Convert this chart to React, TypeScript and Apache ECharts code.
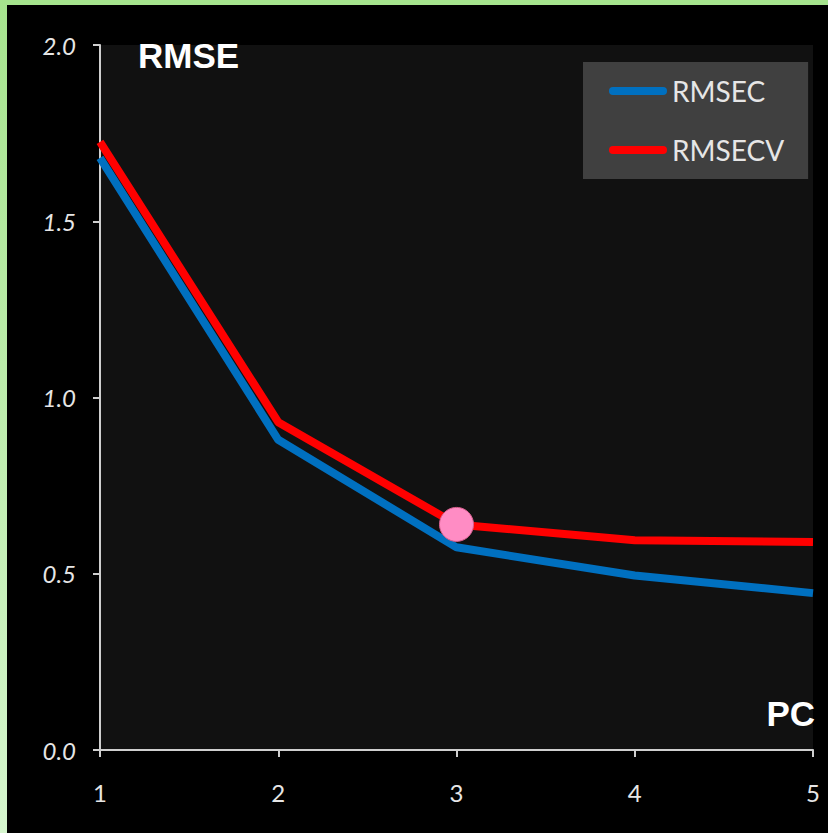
import React, { useEffect, useRef } from "react";
import * as echarts from "echarts";

// Number of principal components on the x axis
const pcs: number[] = [1, 2, 3, 4, 5];
// Calibration error per component count
const rmsec: number[] = [1.68, 0.88, 0.575, 0.495, 0.445];
// Cross-validation error per component count
const rmsecv: number[] = [1.725, 0.93, 0.64, 0.595, 0.59];
// Highlighted optimum (component count, RMSECV value)
const optimum: [number, number] = [3, 0.64];
const yTicks: number[] = [0, 0.5, 1.0, 1.5, 2.0];

const W = 828;
const H = 833;

export default function App() {
  const ref = useRef<HTMLDivElement>(null);

  useEffect(() => {
    document.body.style.margin = "0";
    if (!ref.current) return;
    const chart = echarts.init(ref.current, null, { renderer: "svg" });

    const axisColor = "#cfcfcf";
    const labelFont = "Lato, 'Open Sans', sans-serif";

    chart.setOption({
      animation: false,
      backgroundColor: "#000000",
      grid: {
        left: 100,
        right: W - 813,
        top: 45,
        bottom: H - 750,
        show: true,
        backgroundColor: "#111111",
        borderWidth: 0,
      },
      legend: {
        data: ["RMSEC", "RMSECV"],
        orient: "vertical",
        left: 583,
        top: 62,
        backgroundColor: "#404040",
        padding: [14, 24, 14, 26],
        itemGap: 29,
        itemWidth: 58,
        itemHeight: 8,
        itemTextGap: 3,
        icon: "path://M4,0 H54 A4,4 0 0 1 54,8 H4 A4,4 0 0 1 4,0 Z",
        textStyle: {
          color: "#e6e6e6",
          fontFamily: labelFont,
          fontSize: 28,
          lineHeight: 30,
        },
      },
      xAxis: {
        type: "value",
        min: pcs[0],
        max: pcs[pcs.length - 1],
        interval: 1,
        axisLine: { show: true, lineStyle: { color: axisColor, width: 2 } },
        axisTick: { show: true, length: 7, lineStyle: { color: axisColor, width: 2 } },
        splitLine: { show: false },
        axisLabel: {
          color: "#e6e6e6",
          fontFamily: labelFont,
          fontSize: 24,
          margin: 30,
        },
      },
      yAxis: {
        type: "value",
        min: yTicks[0],
        max: yTicks[yTicks.length - 1],
        interval: 0.5,
        axisLine: { show: true, lineStyle: { color: axisColor, width: 2 } },
        axisTick: { show: true, length: 7, lineStyle: { color: axisColor, width: 2 } },
        splitLine: { show: false },
        axisLabel: {
          color: "#e6e6e6",
          fontFamily: labelFont,
          fontStyle: "italic",
          fontSize: 24,
          margin: 24,
          formatter: (v: number) => v.toFixed(1),
        },
      },
      series: [
        {
          name: "RMSECV",
          type: "line",
          data: pcs.map((p, i) => [p, rmsecv[i]]),
          showSymbol: false,
          symbol: "none",
          itemStyle: { color: "#ff0000" },
          lineStyle: { color: "#ff0000", width: 8 },
          z: 2,
        },
        {
          name: "RMSEC",
          type: "line",
          data: pcs.map((p, i) => [p, rmsec[i]]),
          showSymbol: false,
          symbol: "none",
          itemStyle: { color: "#0070c0" },
          lineStyle: { color: "#0070c0", width: 8 },
          z: 3,
        },
        {
          name: "optimum",
          type: "scatter",
          data: [optimum],
          symbol: "circle",
          symbolSize: 34,
          itemStyle: {
            color: "#ff8cc4",
            borderColor: "#d8608f",
            borderWidth: 1,
            opacity: 1,
          },
          emphasis: { disabled: true },
          z: 5,
        },
      ],
      graphic: [
        {
          type: "rect",
          shape: { x: 0, y: 0, width: W, height: 5 },
          style: { fill: "#a6e48e" },
          z: 10,
        },
        {
          type: "rect",
          shape: { x: 0, y: 0, width: 7, height: H },
          style: {
            fill: new echarts.graphic.LinearGradient(0, 0, 0, 1, [
              { offset: 0, color: "#a6e48e" },
              { offset: 1, color: "#d6f6ce" },
            ]),
          },
          z: 10,
        },
        {
          type: "text",
          x: 138,
          y: 55,
          style: {
            text: "RMSE",
            fill: "#ffffff",
            font: "bold 35px 'Liberation Sans', Arial, sans-serif",
            textAlign: "left",
            textVerticalAlign: "middle",
          },
          z: 10,
        },
        {
          type: "text",
          x: 815,
          y: 713,
          style: {
            text: "PC",
            fill: "#ffffff",
            font: "bold 35px 'Liberation Sans', Arial, sans-serif",
            textAlign: "right",
            textVerticalAlign: "middle",
          },
          z: 10,
        },
      ],
    });

    return () => chart.dispose();
  }, []);

  return <div ref={ref} style={{ width: W, height: H }} />;
}
